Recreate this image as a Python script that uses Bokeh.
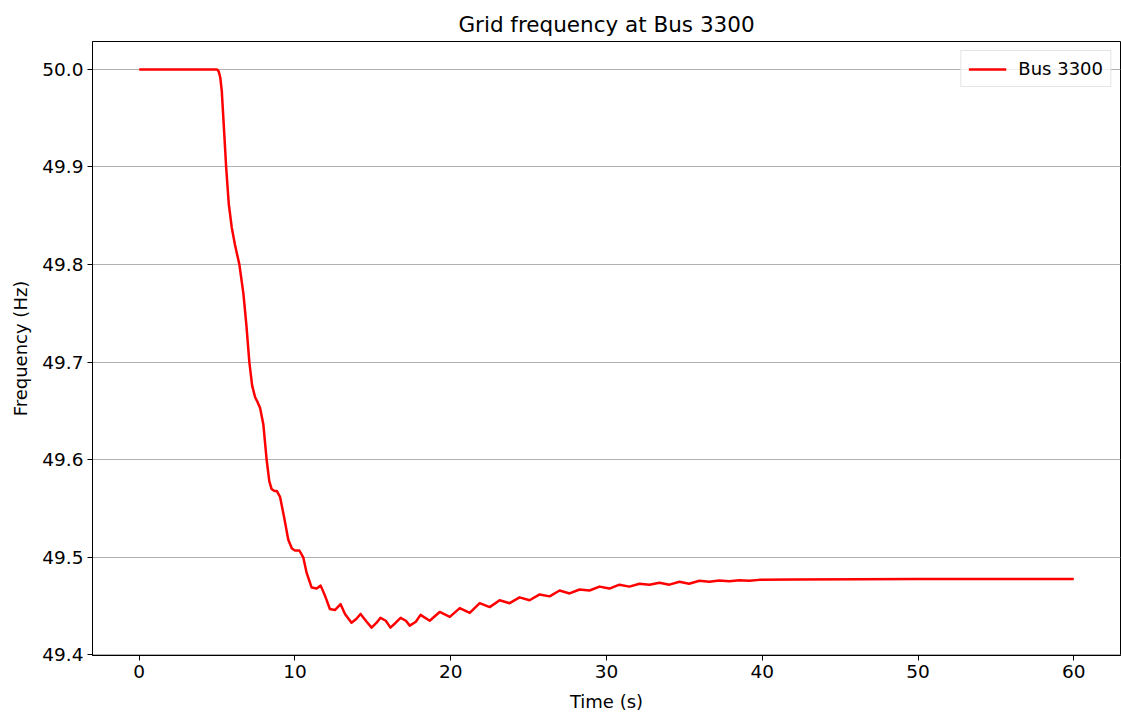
from bokeh.plotting import figure
from bokeh.models import FixedTicker, NumeralTickFormatter, Range1d, Legend, LegendItem
from bokeh.embed import file_html
from bokeh.resources import INLINE

title_text = "Grid frequency at Bus 3300"
series_name = "Bus 3300"
x_label = "Time (s)"
y_label = "Frequency (Hz)"

time_s = [0.0, 5.0, 5.1, 5.2, 5.3, 5.42, 5.58, 5.75, 5.94, 6.15, 6.43, 6.69, 6.88,
          7.07, 7.25, 7.44, 7.6, 7.76, 7.97, 8.18, 8.35, 8.5, 8.68, 8.83, 9.04,
          9.29, 9.57, 9.8, 10.0, 10.28, 10.53, 10.75, 11.07, 11.39, 11.65, 11.92,
          12.24, 12.56, 12.93, 13.21, 13.63, 13.95, 14.21, 14.6, 14.92, 15.24,
          15.49, 15.83, 16.13, 16.47, 16.78, 17.12, 17.37, 17.76, 18.06, 18.65,
          19.29, 19.94, 20.58, 21.22, 21.86, 22.5, 23.14, 23.78, 24.42, 25.06,
          25.71, 26.35, 26.99, 27.63, 28.27, 28.91, 29.55, 30.19, 30.83, 31.47,
          32.12, 32.76, 33.4, 34.04, 34.68, 35.3, 35.96, 36.6, 37.24, 37.88,
          38.53, 39.17, 39.8, 42.0, 46.2, 50.0, 60.0]
freq_hz = [50.0, 50.0, 49.998, 49.992, 49.978, 49.945, 49.900, 49.862, 49.838,
           49.820, 49.800, 49.770, 49.738, 49.700, 49.676, 49.664, 49.659,
           49.653, 49.636, 49.600, 49.578, 49.570, 49.568, 49.568, 49.562,
           49.542, 49.518, 49.509, 49.507, 49.507, 49.500, 49.484, 49.469,
           49.468, 49.471, 49.461, 49.447, 49.446, 49.452, 49.442, 49.433,
           49.437, 49.442, 49.434, 49.428, 49.433, 49.438, 49.435, 49.428,
           49.433, 49.438, 49.435, 49.430, 49.434, 49.441, 49.435, 49.444,
           49.439, 49.448, 49.443, 49.453, 49.449, 49.456, 49.453, 49.459,
           49.456, 49.462, 49.460, 49.466, 49.463, 49.467, 49.466, 49.470,
           49.468, 49.472, 49.470, 49.473, 49.472, 49.474, 49.472, 49.475,
           49.473, 49.476, 49.475, 49.4762, 49.4756, 49.4766, 49.4760, 49.4769,
           49.4772, 49.4776, 49.4778, 49.4779]
x_ticks = [0, 10, 20, 30, 40, 50, 60]
y_ticks = [49.4, 49.5, 49.6, 49.7, 49.8, 49.9, 50.0]

FONT = "DejaVu Sans"

p = figure(width=1121, height=715, output_backend="svg", toolbar_location=None,
           x_range=Range1d(-3.0, 63.0), y_range=Range1d(49.3994, 50.0286),
           min_border_left=92, min_border_right=1, min_border_top=41,
           min_border_bottom=60)

p.title.text = title_text
p.title.align = "center"
p.title.text_font = FONT
p.title.text_font_size = "21.5px"
p.title.text_font_style = "normal"
p.title.text_color = "black"
p.title.offset = 0
p.title.standoff = 9

r = p.line(time_s, freq_hz, line_color="#ff0000", line_width=2.5,
           line_join="round")

p.xaxis.ticker = FixedTicker(ticks=x_ticks)
p.yaxis.ticker = FixedTicker(ticks=y_ticks)
p.yaxis.formatter = NumeralTickFormatter(format="0.0")
for ax in (p.xaxis, p.yaxis):
    ax.major_label_text_font = FONT
    ax.major_label_text_font_size = "18.5px"
    ax.major_label_text_color = "black"
    ax.axis_label_text_font = FONT
    ax.axis_label_text_font_size = "18px"
    ax.axis_label_text_font_style = "normal"
    ax.axis_label_text_color = "black"
    ax.major_tick_out = 5
    ax.major_tick_in = 0
    ax.minor_tick_out = 0
    ax.minor_tick_in = 0
    ax.axis_line_color = "black"
    ax.major_tick_line_color = "black"
    ax.major_label_standoff = 4
p.xaxis.axis_label = x_label
p.yaxis.axis_label = y_label
p.xaxis.axis_label_standoff = 10
p.yaxis.axis_label_standoff = 8

p.xgrid.visible = False
p.ygrid.grid_line_color = "#b0b0b0"
p.ygrid.grid_line_width = 1

p.outline_line_color = "black"
p.outline_line_width = 1
p.background_fill_color = "white"
p.border_fill_color = "white"

legend = Legend(items=[LegendItem(label=series_name, renderers=[r])],
                location="top_right")
legend.label_text_font = FONT
legend.label_text_font_size = "18px"
legend.label_text_color = "black"
legend.glyph_width = 38
legend.glyph_height = 20
legend.label_standoff = 12
legend.padding = 7
legend.margin = 9
legend.border_line_color = "#cccccc"
legend.border_line_width = 1
legend.background_fill_alpha = 0.8
p.add_layout(legend)

open("out.html", "w").write(file_html(p, INLINE))
